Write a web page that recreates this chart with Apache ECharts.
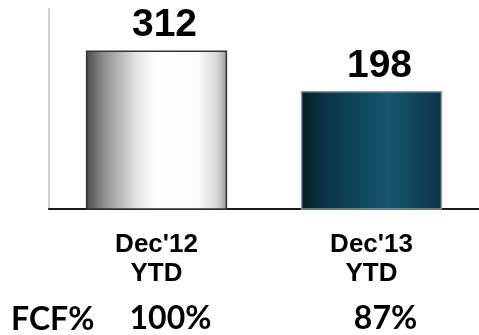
<!DOCTYPE html>
<html>
<head>
<meta charset="utf-8">
<script src="https://cdn.jsdelivr.net/npm/echarts@6/dist/echarts.min.js"></script>
<style>
  html, body { margin: 0; padding: 0; background: #ffffff; }
  #chart { width: 479px; height: 335px; }
</style>
</head>
<body>
<div id="chart"></div>
<script>
// Free cash flow, year to date
const categories = ["Dec'12\nYTD", "Dec'13\nYTD"];
const cashFlow = [312, 198];
const fcfPercent = ['100%', '87%'];
const fcfTitle = 'FCF%';

// value range of the hidden vertical scale
const yMin = -130;
const yMax = 430;

const barFills = [
  new echarts.graphic.LinearGradient(0, 0, 1, 0, [
    { offset: 0, color: '#474747' },
    { offset: 0.12, color: '#8c8c8c' },
    { offset: 0.35, color: '#e2e2e2' },
    { offset: 0.5, color: '#ffffff' },
    { offset: 0.8, color: '#fbfbfb' },
    { offset: 0.93, color: '#d6d6d6' },
    { offset: 1, color: '#9a9a9a' }
  ]),
  new echarts.graphic.LinearGradient(0, 0, 1, 0, [
    { offset: 0, color: '#051c25' },
    { offset: 0.15, color: '#0b3243' },
    { offset: 0.45, color: '#114861' },
    { offset: 0.62, color: '#175670' },
    { offset: 0.85, color: '#0f4158' },
    { offset: 1, color: '#0b3547' }
  ])
];
const barStrokes = ['#333333', '#8a979c'];

const chart = echarts.init(document.getElementById('chart'), null, { renderer: 'canvas' });

chart.setOption({
  animation: false,
  grid: { left: 49, right: -6, top: 9, bottom: 122 },
  xAxis: [
    {
      type: 'category',
      data: categories,
      axisLine: { onZero: false, lineStyle: { color: '#1a1a1a', width: 2 } },
      axisTick: { show: false },
      axisLabel: {
        margin: 21,
        color: '#000000',
        fontFamily: 'Liberation Sans, Arial, sans-serif',
        fontWeight: 'bold',
        fontSize: 26,
        lineHeight: 29
      }
    },
    {
      type: 'category',
      data: fcfPercent,
      position: 'bottom',
      axisLine: { show: false },
      axisTick: { show: false },
      axisLabel: {
        margin: 94,
        padding: [0, 0, 0, 28],
        color: '#000000',
        fontFamily: 'Lato, sans-serif',
        fontWeight: 'bold',
        fontSize: 32
      }
    }
  ],
  yAxis: {
    type: 'value',
    min: yMin,
    max: yMax,
    axisLine: { show: true, lineStyle: { color: '#cfcfcf', width: 2 } },
    axisTick: { show: false },
    axisLabel: { show: false },
    splitLine: { show: false }
  },
  graphic: [
    {
      type: 'text',
      left: 11,
      top: 304,
      style: {
        text: fcfTitle,
        fill: '#000000',
        font: 'bold 32px Lato, sans-serif'
      }
    }
  ],
  series: [
    {
      type: 'custom',
      data: cashFlow.map((v, i) => [i, v]),
      z: 1,
      renderItem(params, api) {
        const idx = api.value(0);
        const val = api.value(1);
        const top = api.coord([idx, val]);
        const base = api.coord([idx, yMin]);
        const w = api.size([1, 0])[0] * 0.65;
        return {
          type: 'group',
          children: [
            {
              type: 'rect',
              shape: { x: top[0] - w / 2, y: top[1], width: w, height: base[1] - top[1] },
              style: { fill: barFills[idx], stroke: barStrokes[idx], lineWidth: 1.5 }
            },
            {
              type: 'text',
              x: top[0] + 8,
              y: top[1] - 6,
              style: {
                text: String(val),
                fill: '#000000',
                font: 'bold 39px "Liberation Sans", Arial, sans-serif',
                align: 'center',
                verticalAlign: 'bottom'
              }
            }
          ]
        };
      }
    }
  ]
});
</script>
</body>
</html>
